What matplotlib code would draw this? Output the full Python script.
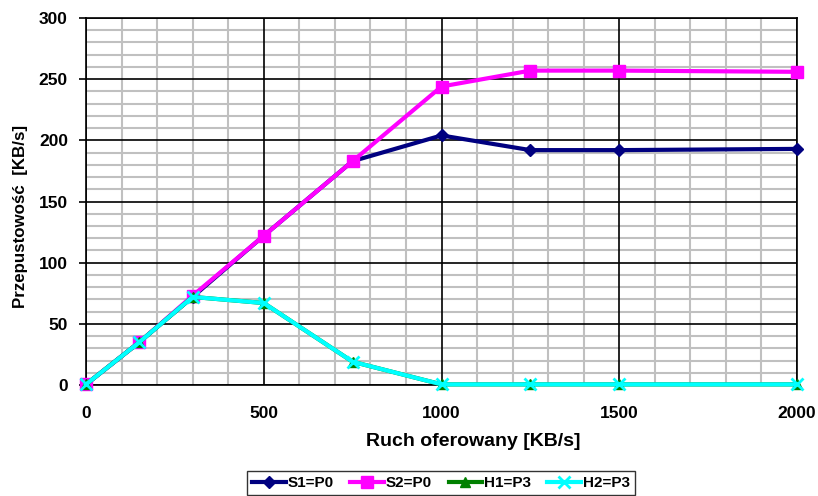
import numpy as np
import matplotlib.pyplot as plt
from matplotlib.ticker import MultipleLocator

plt.rcParams['font.family'] = ['Liberation Sans', 'DejaVu Sans']
plt.rcParams['font.weight'] = 'bold'

# offered load [KB/s]
ruch = [0, 150, 300, 500, 750, 1000, 1250, 1500, 2000]

# throughput per stream [KB/s]
s1_p0 = [0.5, 35, 72, 122, 183, 204, 192, 192, 193]
s2_p0 = [0.5, 35, 73, 122, 183, 244, 257, 257, 256]
h1_p3 = [0.5, 35, 72, 67, 19, 0.5, 0.5, 0.5, 0.5]
h2_p3 = [0.5, 35, 72, 67, 19, 0.5, 0.5, 0.5, 0.5]

series_names = ['S1=P0', 'S2=P0', 'H1=P3', 'H2=P3']

fig = plt.figure(figsize=(8.18, 4.96), dpi=100)
ax = fig.add_axes([86 / 818, 1 - 385 / 496, (797 - 86) / 818, (385 - 18) / 496])

ax.plot(ruch, s1_p0, color='#000080', lw=3, marker='D', ms=6, label=series_names[0], clip_on=False, zorder=3)
ax.plot(ruch, s2_p0, color='#ff00ff', lw=3, marker='s', ms=8, label=series_names[1], clip_on=False, zorder=4)
ax.plot(ruch, h1_p3, color='#008000', lw=3, marker='^', ms=7, label=series_names[2], clip_on=False, zorder=5)
ax.plot(ruch, h2_p3, color='#00ffff', lw=3, marker='x', ms=8, mew=2, label=series_names[3], clip_on=False, zorder=6)

ax.set_xlim(0, 2000)
ax.set_ylim(0, 300)
ax.xaxis.set_major_locator(MultipleLocator(500))
ax.xaxis.set_minor_locator(MultipleLocator(100))
ax.yaxis.set_major_locator(MultipleLocator(50))
ax.yaxis.set_minor_locator(MultipleLocator(10))

# light minor grid first, black major lines drawn over it
ax.grid(which='minor', color='#c0c0c0', lw=1.5)
ax.set_axisbelow(True)
for xv in ax.get_xticks():
    ax.axvline(xv, color='black', lw=1.2, zorder=1)
for yv in ax.get_yticks():
    ax.axhline(yv, color='black', lw=1.2, zorder=1)

for sp in ax.spines.values():
    sp.set_color('black')
    sp.set_linewidth(1.2)

ax.tick_params(axis='x', which='both', length=0, pad=15, labelsize=12.5)
ax.tick_params(axis='y', which='major', length=5, width=1.2, direction='out', pad=8, labelsize=12.5)
ax.tick_params(axis='y', which='minor', length=0)

ax.set_xlabel('Ruch oferowany [KB/s]', fontsize=14, fontweight='bold')
ax.xaxis.set_label_coords(0.544, -0.131)
ax.set_ylabel('Przepustowość  [KB/s]', fontsize=12.2, fontweight='bold')
ax.yaxis.set_label_coords(-0.082, 0.46)

leg = fig.legend(loc='center', bbox_to_anchor=(441 / 818, 1 - 483 / 496), ncol=4,
                 fancybox=False, frameon=True, edgecolor='black', fontsize=11,
                 handlelength=2.2, handletextpad=0.1, columnspacing=1.1,
                 borderpad=0.35)
leg.get_frame().set_linewidth(1.0)

fig.savefig('out.png', dpi=100)
